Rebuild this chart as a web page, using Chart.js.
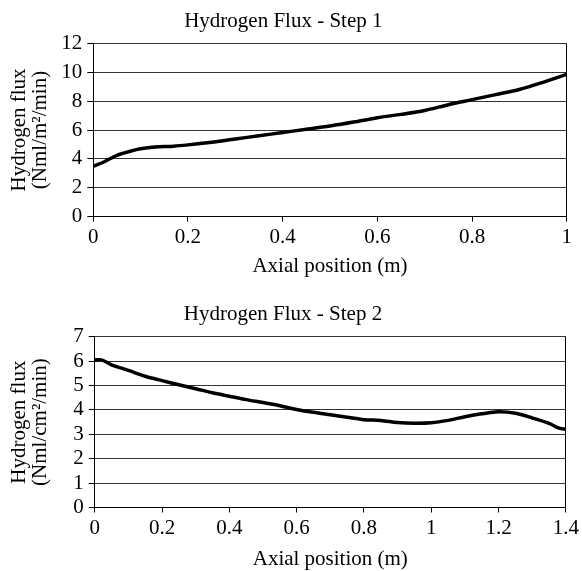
<!DOCTYPE html>
<html>
<head>
<meta charset="utf-8">
<script src="https://cdn.jsdelivr.net/npm/chart.js@4.4.1/dist/chart.umd.min.js"></script>
<style>
  body { margin: 0; background: #fff; }
  canvas { position: absolute; left: 0; }
  #grafico1 { top: 0; }
  #grafico2 { top: 290px; }
</style>
</head>
<body>
<canvas id="grafico1" width="582" height="290"></canvas>
<canvas id="grafico2" width="582" height="281"></canvas>
<script>
// Step 1
const posicao1 = [0, 0.02, 0.05, 0.08, 0.1, 0.13, 0.17, 0.2, 0.25, 0.3, 0.35, 0.4, 0.45, 0.5,
    0.55, 0.6, 0.65, 0.7, 0.75, 0.8, 0.85, 0.9, 0.95, 1.0];
const fluxo1 = [3.5, 3.75, 4.25, 4.55, 4.7, 4.82, 4.88, 4.97, 5.15, 5.38, 5.6, 5.83, 6.05, 6.28,
    6.55, 6.85, 7.08, 7.35, 7.75, 8.1, 8.45, 8.8, 9.3, 9.85];
const xTicks1 = [0, 0.2, 0.4, 0.6, 0.8, 1];
const yTicks1 = [0, 2, 4, 6, 8, 10, 12];

// Step 2
const posicao2 = [0, 0.02, 0.05, 0.1, 0.15, 0.2, 0.25, 0.3, 0.35, 0.4, 0.45, 0.5, 0.55, 0.6,
    0.65, 0.7, 0.75, 0.8, 0.85, 0.9, 0.95, 1.0, 1.05, 1.1, 1.15, 1.2, 1.25, 1.3, 1.35, 1.38, 1.4];
const fluxo2 = [6.05, 6.05, 5.85, 5.62, 5.38, 5.2, 5.03, 4.87, 4.7, 4.56, 4.42, 4.3, 4.17, 4.02,
    3.9, 3.8, 3.7, 3.6, 3.57, 3.48, 3.45, 3.47, 3.57, 3.72, 3.84, 3.92, 3.86, 3.67, 3.45, 3.25, 3.2];
const xTicks2 = [0, 0.2, 0.4, 0.6, 0.8, 1, 1.2, 1.4];
const yTicks2 = [0, 1, 2, 3, 4, 5, 6, 7];

Chart.defaults.font.family = '"Liberation Serif", "Times New Roman", serif';
Chart.defaults.font.size = 21;
Chart.defaults.color = '#000';

function criarGrafico(id, titulo, xs, ys, xTicks, yTicks, yTitulo, cfg) {
    const ctx = document.getElementById(id).getContext('2d');
    const xMax = xTicks[xTicks.length - 1];
    return new Chart(ctx, {
        type: 'line',
        data: {
            datasets: [{
                data: xs.map((x, i) => ({ x: x, y: ys[i] })),
                borderColor: '#000',
                borderWidth: 3.5,
                pointRadius: 0,
                tension: 0.3,
                fill: false
            }]
        },
        options: {
            responsive: false,
            animation: false,
            devicePixelRatio: 1,
            layout: { padding: { left: 0, right: cfg.right, top: 0, bottom: 0 } },
            plugins: {
                legend: { display: false },
                tooltip: { enabled: false },
                title: {
                    display: true,
                    text: titulo,
                    color: '#000',
                    font: { size: 21, weight: 'normal', lineHeight: 1.2 },
                    padding: { top: cfg.titleTop, bottom: cfg.titleBottom }
                }
            },
            scales: {
                x: {
                    type: 'linear',
                    min: 0,
                    max: xMax,
                    afterBuildTicks: (s) => { s.ticks = xTicks.map(v => ({ value: v })); },
                    afterFit: (s) => { s.height = cfg.xHeight; },
                    ticks: { maxRotation: 0, autoSkip: false, padding: 3, color: '#000',
                        callback: (v) => String(v) },
                    grid: {
                        color: (c) => (c.tick && c.tick.value === xMax) ? '#000' : 'rgba(0,0,0,0)',
                        tickColor: '#000',
                        tickLength: 5,
                        drawTicks: true
                    },
                    border: { color: '#000', width: 1 },
                    title: {
                        display: true,
                        text: 'Axial position (m)',
                        color: '#000',
                        font: { size: 21, lineHeight: 1.0 },
                        padding: { top: 0, bottom: cfg.xTitleBottom }
                    }
                },
                y: {
                    min: 0,
                    max: yTicks[yTicks.length - 1],
                    afterBuildTicks: (s) => { s.ticks = yTicks.map(v => ({ value: v })); },
                    afterFit: (s) => { s.width = cfg.yWidth; },
                    ticks: { padding: 5, color: '#000', autoSkip: false },
                    grid: { color: '#333', tickColor: '#000', tickLength: 6 },
                    border: { color: '#000', width: 1 },
                    title: {
                        display: true,
                        text: yTitulo,
                        color: '#000',
                        font: { size: 21, lineHeight: 1.0 },
                        padding: { top: 8.5, bottom: 0 }
                    }
                }
            }
        }
    });
}

criarGrafico('grafico1', 'Hydrogen Flux - Step 1', posicao1, fluxo1, xTicks1, yTicks1,
    ['Hydrogen flux', '(Nml/m\u00b2/min)'],
    { right: 15.3, titleTop: 8.4, titleBottom: 9.7, xHeight: 73.3, xTitleBottom: 13, yWidth: 93.3 });

criarGrafico('grafico2', 'Hydrogen Flux - Step 2', posicao2, fluxo2, xTicks2, yTicks2,
    ['Hydrogen flux', '(Nml/cm\u00b2/min)'],
    { right: 16, titleTop: 12.1, titleBottom: 9.4, xHeight: 63.5, xTitleBottom: 1.5, yWidth: 94.7 });
</script>
</body>
</html>
